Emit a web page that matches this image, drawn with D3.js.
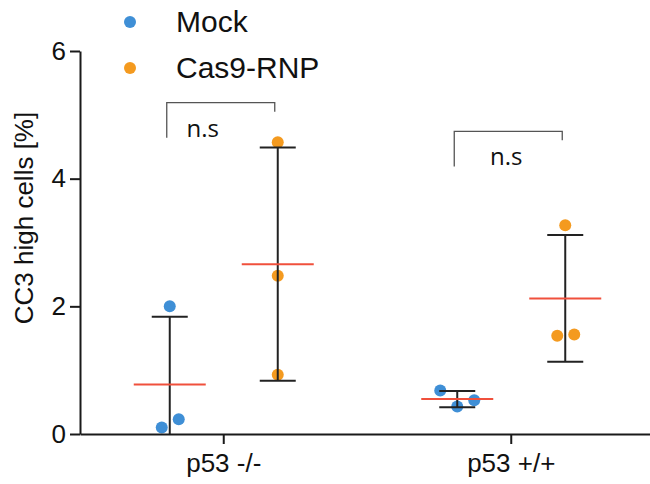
<!DOCTYPE html>
<html>
<head>
<meta charset="utf-8">
<script src="https://cdn.jsdelivr.net/npm/d3@7"></script>
<style>
  body { margin: 0; background: #fff; }
  svg { display: block; }
</style>
</head>
<body>
<div id="chart"></div>
<script>
// values
const groups = ['p53 -/-', 'p53 +/+'];
const series = ['Mock', 'Cas9-RNP'];
const colors = ['#3f8fd6', '#f49a1f'];
const yTicks = [0, 2, 4, 6];

const mockValues = [[0.10, 2.00, 0.23], [0.68, 0.43, 0.53]];
const cas9Values = [[0.93, 2.48, 4.57], [3.27, 1.54, 1.56]];
// horizontal scatter of overlapping points (px)
const mockJitter = [[-8, 0, 9], [-17, 0, 17]];
const cas9Jitter = [[0, 0, 0], [0, -8, 9]];

// significance brackets: top and leg ends in data units
const brackets = [
  { group: 'p53 -/-', top: 5.19, leftEnd: 4.64, rightEnd: 5.05, label: 'n.s' },
  { group: 'p53 +/+', top: 4.74, leftEnd: 4.19, rightEnd: 4.6, label: 'n.s' }
];

const w = 650, h = 484;
const margin = { top: 51, right: -5, bottom: 50, left: 80 };
const width = w - margin.left - margin.right;
const height = h - margin.top - margin.bottom;

const svg = d3.select('#chart').append('svg')
  .attr('width', w)
  .attr('height', h);

const g = svg.append('g')
  .attr('transform', `translate(${margin.left},${margin.top})`);

const x = d3.scaleBand().domain(groups).range([0, width]).padding(0);
const xs = d3.scalePoint().domain(series).range([-54, 54]);
const y = d3.scaleLinear().domain([0, 6]).range([height, 0]);

g.append('clipPath').attr('id', 'plot')
  .append('rect').attr('x', -20).attr('y', -60).attr('width', width + 40).attr('height', height + 60);

// build point table
const points = [];
const stats = [];
[mockValues, cas9Values].forEach((vals, si) => {
  const jit = si === 0 ? mockJitter : cas9Jitter;
  groups.forEach((grp, gi) => {
    vals[gi].forEach((v, i) => points.push({ grp, s: series[si], si, v, dx: jit[gi][i] }));
    stats.push({ grp, s: series[si], mean: d3.mean(vals[gi]), sd: d3.deviation(vals[gi]) });
  });
});

const cx = d => x(d.grp) + x.bandwidth() / 2 + xs(d.s);

const plot = g.append('g').attr('clip-path', 'url(#plot)');

plot.selectAll('.dot')
  .data(points)
  .enter()
  .append('circle')
  .attr('class', 'dot')
  .attr('cx', d => cx(d) + d.dx)
  .attr('cy', d => y(d.v))
  .attr('r', 6)
  .style('fill', d => colors[d.si]);

// error bars (mean ± SD)
const eb = plot.selectAll('.eb')
  .data(stats)
  .enter()
  .append('g')
  .attr('class', 'eb')
  .style('stroke', '#222')
  .style('stroke-width', 2);

eb.append('line')
  .attr('x1', cx).attr('x2', cx)
  .attr('y1', d => y(d.mean + d.sd))
  .attr('y2', d => y(d.mean - d.sd));
eb.append('line')
  .attr('x1', d => cx(d) - 18).attr('x2', d => cx(d) + 18)
  .attr('y1', d => y(d.mean + d.sd)).attr('y2', d => y(d.mean + d.sd));
eb.filter(d => d.mean - d.sd > 0).append('line')
  .attr('x1', d => cx(d) - 18).attr('x2', d => cx(d) + 18)
  .attr('y1', d => y(d.mean - d.sd)).attr('y2', d => y(d.mean - d.sd));

// mean lines
plot.selectAll('.mean')
  .data(stats)
  .enter()
  .append('line')
  .attr('class', 'mean')
  .attr('x1', d => cx(d) - 36).attr('x2', d => cx(d) + 36)
  .attr('y1', d => y(d.mean)).attr('y2', d => y(d.mean))
  .style('stroke', '#f0503c')
  .style('stroke-width', 2);

// axes
const yAxis = g.append('g')
  .call(d3.axisLeft(y).tickValues(yTicks).tickFormat(d3.format('d'))
    .tickSize(10).tickSizeOuter(0).tickPadding(4));
const xAxis = g.append('g')
  .attr('transform', `translate(0,${height})`)
  .call(d3.axisBottom(x).tickSize(10).tickSizeOuter(0).tickPadding(10));

[yAxis, xAxis].forEach(a => {
  a.selectAll('path, line').style('stroke', '#1a1a1a').style('stroke-width', 2);
  a.selectAll('text')
    .style('font-family', '"Liberation Sans", Arial, sans-serif')
    .style('font-size', '26px')
    .style('fill', '#111');
});
xAxis.selectAll('text').attr('dy', '0.71em');

svg.append('text')
  .attr('transform', 'rotate(-90)')
  .attr('x', -218)
  .attr('y', 33)
  .style('text-anchor', 'middle')
  .style('font-family', '"Liberation Sans", Arial, sans-serif')
  .style('font-size', '26px')
  .style('fill', '#111')
  .text('CC3 high cells [%]');

// brackets
const br = g.selectAll('.bracket')
  .data(brackets)
  .enter()
  .append('g')
  .attr('class', 'bracket');

const bx0 = d => x(d.group) + x.bandwidth() / 2 + xs('Mock') - 3;
const bx1 = d => x(d.group) + x.bandwidth() / 2 + xs('Cas9-RNP') - 3;

br.append('path')
  .attr('d', d => `M${bx0(d)},${y(d.leftEnd)}V${y(d.top)}H${bx1(d)}V${y(d.rightEnd)}`)
  .style('fill', 'none')
  .style('stroke', '#555')
  .style('stroke-width', 1.3);

br.append('text')
  .attr('x', (d, i) => (bx0(d) + bx1(d)) / 2 - (i === 0 ? 18 : 2))
  .attr('y', d => y(d.top) + 34)
  .style('text-anchor', 'middle')
  .style('font-family', '"Open Sans", sans-serif')
  .style('font-size', '24px')
  .style('fill', '#111')
  .text(d => d.label);

// legend
const legend = svg.append('g')
  .selectAll('.leg')
  .data(series)
  .enter()
  .append('g')
  .attr('class', 'leg')
  .attr('transform', (d, i) => `translate(130,${22 + i * 46})`);

legend.append('circle')
  .attr('r', 6)
  .style('fill', (d, i) => colors[i]);

legend.append('text')
  .attr('x', 46)
  .attr('y', 10)
  .style('font-family', '"Liberation Sans", Arial, sans-serif')
  .style('font-size', '30px')
  .style('fill', '#111')
  .text(d => d);
</script>
</body>
</html>
